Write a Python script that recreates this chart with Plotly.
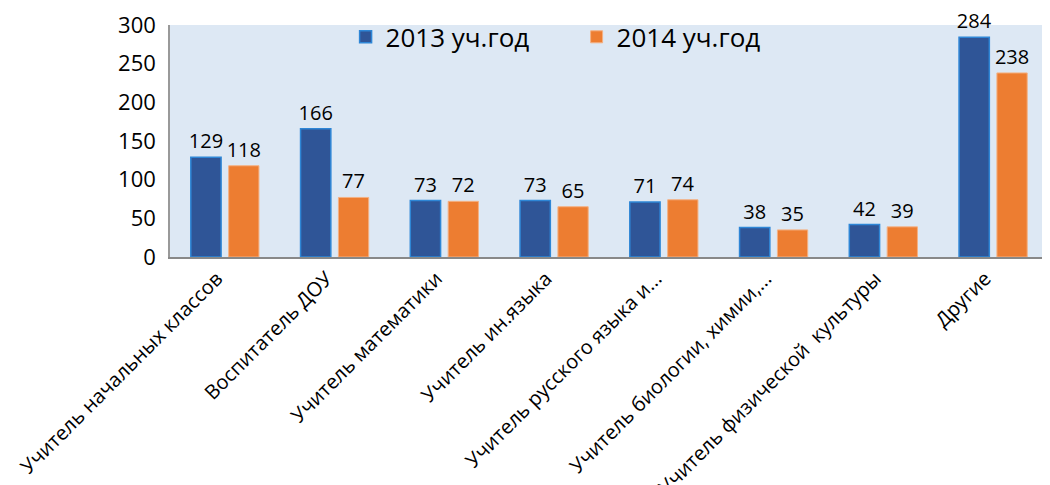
import plotly.graph_objects as go

categories = ["Учитель начальных классов", "Воспитатель ДОУ", "Учитель математики",
              "Учитель ин.языка", "Учитель русского языка и...", "Учитель биологии, химии,...",
              "Учитель физической  культуры", "Другие"]
values_2013 = [129, 166, 73, 73, 71, 38, 42, 284]
values_2014 = [118, 77, 72, 65, 74, 35, 39, 238]
series_names = ["2013 уч.год", "2014 уч.год"]
y_ticks = [0, 50, 100, 150, 200, 250, 300]

font = "Open Sans"

fig = go.Figure()
fig.add_trace(go.Bar(
    x=categories, y=values_2013, name=series_names[0],
    marker=dict(color="#2f5597", line=dict(color="#2e86d6", width=1.5)),
    text=values_2013, textposition="outside", cliponaxis=False,
    constraintext="none",
    textfont=dict(family=font, size=20, color="#000"),
))
fig.add_trace(go.Bar(
    x=categories, y=values_2014, name=series_names[1],
    marker=dict(color="#ed7d31", line=dict(color="#f4b183", width=1)),
    text=values_2014, textposition="outside", cliponaxis=False,
    constraintext="none",
    textfont=dict(family=font, size=20, color="#000"),
))

fig.update_layout(
    width=1050, height=485,
    margin=dict(l=162, r=10, t=17, b=236, autoexpand=False),
    paper_bgcolor="white", plot_bgcolor="#dde8f4",
    barmode="group", bargap=0.31, bargroupgap=0.2,
    font=dict(family=font, color="#000"),
    showlegend=True,
    legend=dict(orientation="h", x=0.2, y=1.05, xanchor="left", yanchor="top",
                bgcolor="rgba(0,0,0,0)", font=dict(size=26, family=font),
                itemwidth=30, entrywidth=186, tracegroupgap=0),
    xaxis=dict(tickangle=-45, tickfont=dict(size=20, family=font),
               showline=True, linecolor="#888", linewidth=2, ticks="",
               showgrid=False, automargin=False,
               ticklabelshift=-8, ticklabelstandoff=0),
    yaxis=dict(range=[0, 300], tickvals=y_ticks, showgrid=False,
               showline=True, linecolor="#999", linewidth=1.5,
               tickfont=dict(size=22, family=font), ticks="", zeroline=False,
               automargin=False, ticklabelstandoff=8),
)

fig.write_html("out.html")
